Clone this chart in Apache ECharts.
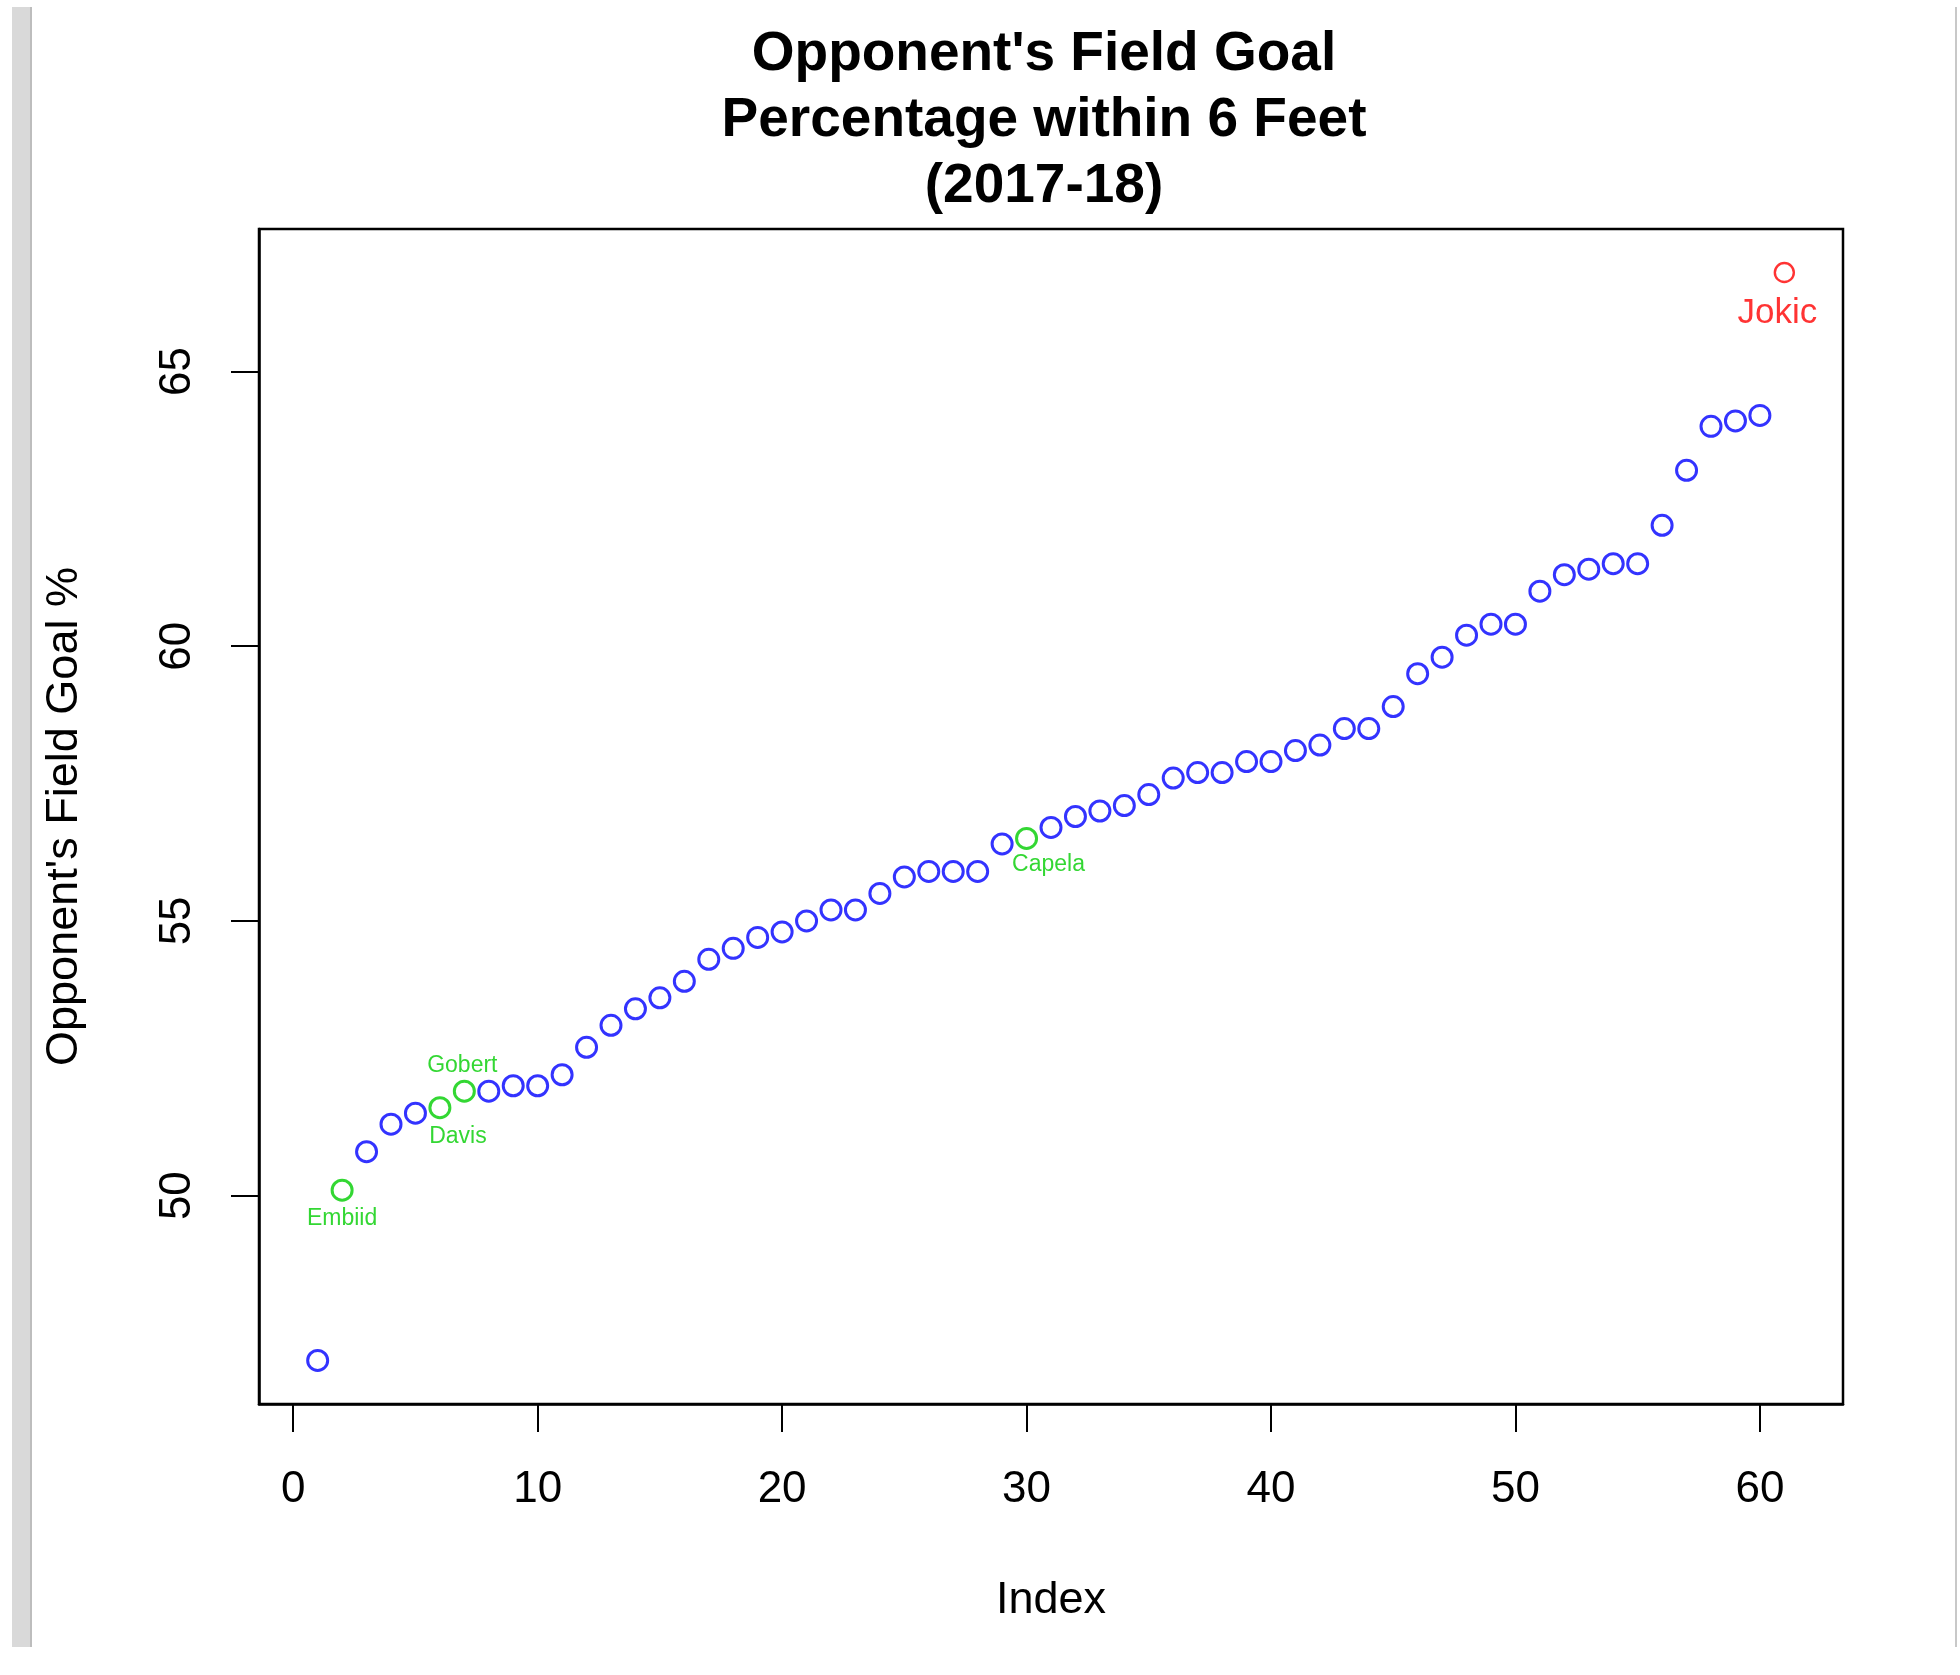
<!DOCTYPE html>
<html>
<head>
<meta charset="utf-8">
<script src="https://cdn.jsdelivr.net/npm/echarts@6/dist/echarts.min.js"></script>
<style>
html,body{margin:0;padding:0;background:#fff;}
#chart{width:1960px;height:1675px;}
</style>
</head>
<body>
<div id="chart"></div>
<script>
// Opponent's FG% within 6 feet, sorted ascending (index 1..61)
const fgPct = [47.0, 50.1, 50.8, 51.3, 51.5, 51.6, 51.9, 51.9, 52.0, 52.0,
               52.2, 52.7, 53.1, 53.4, 53.6, 53.9, 54.3, 54.5, 54.7, 54.8,
               55.0, 55.2, 55.2, 55.5, 55.8, 55.9, 55.9, 55.9, 56.4, 56.5,
               56.7, 56.9, 57.0, 57.1, 57.3, 57.6, 57.7, 57.7, 57.9, 57.9,
               58.1, 58.2, 58.5, 58.5, 58.9, 59.5, 59.8, 60.2, 60.4, 60.4,
               61.0, 61.3, 61.4, 61.5, 61.5, 62.2, 63.2, 64.0, 64.1, 64.2,
               66.8];
const playerNames = ['Embiid', 'Davis', 'Gobert', 'Capela', 'Jokic'];
const playerIndex = [2, 6, 7, 30, 61];
const playerGroup = ['peer', 'peer', 'peer', 'peer', 'focus'];
const xTicks = [0, 10, 20, 30, 40, 50, 60];
const yTicks = [50, 55, 60, 65];
const titleLines = ["Opponent's Field Goal", "Percentage within 6 Feet", "(2017-18)"];
const xAxisTitle = 'Index';
const yAxisTitle = "Opponent's Field Goal %";

// styling (not data)
const FONT = '"Liberation Sans", Arial, Helvetica, sans-serif';
const groupColor = { peer: '#00cd00', focus: '#ff0000', base: '#0000ff' };
const groupMarker = {
  peer:  { size: 20, border: 3 },
  focus: { size: 19, border: 2.4 },
  base:  { size: 20, border: 3 }
};
const labelStyle = {
  Embiid: { offset: [0, 29], fontSize: 23 },
  Davis:  { offset: [18, 29], fontSize: 23 },
  Gobert: { offset: [-2, -26], fontSize: 23 },
  Capela: { offset: [22, 26], fontSize: 23 },
  Jokic:  { offset: [-7, 41], fontSize: 35 }
};

// R-style 4% axis extension
const n = fgPct.length;
const xLo = 1, xHi = n;
const yLo = Math.min(...fgPct), yHi = Math.max(...fgPct);
const xMin = xLo - 0.04 * (xHi - xLo), xMax = xHi + 0.04 * (xHi - xLo);
const yMin = yLo - 0.04 * (yHi - yLo), yMax = yHi + 0.04 * (yHi - yLo);

const data = fgPct.map((v, i) => {
  const idx = i + 1;
  const k = playerIndex.indexOf(idx);
  const grp = k >= 0 ? playerGroup[k] : 'base';
  const c = groupColor[grp];
  const mk = groupMarker[grp];
  const item = {
    value: [idx, v],
    symbolSize: mk.size,
    itemStyle: { color: 'rgba(0,0,0,0)', borderColor: c, borderWidth: mk.border }
  };
  if (k >= 0) {
    const nm = playerNames[k];
    const st = labelStyle[nm];
    item.label = {
      show: true,
      formatter: nm,
      position: 'inside',
      offset: st.offset,
      color: c,
      fontSize: st.fontSize,
      fontFamily: FONT,
      align: 'center',
      verticalAlign: 'middle'
    };
  }
  return item;
});

const chart = echarts.init(document.getElementById('chart'), null, { renderer: 'canvas' });
chart.setOption({
  backgroundColor: '#ffffff',
  animation: false,
  title: {
    text: titleLines.join('\n'),
    left: 1039,
    top: 17,
    textAlign: 'center',
    textStyle: {
      fontFamily: FONT,
      fontWeight: 'bold',
      fontSize: 55,
      lineHeight: 66,
      color: '#000'
    }
  },
  graphic: [
    { type: 'rect', shape: { x: 12, y: 7, width: 19, height: 1640 }, style: { fill: '#d9d9d9' }, silent: true, z: 100 },
    { type: 'rect', shape: { x: 30, y: 7, width: 2, height: 1640 }, style: { fill: '#bdbdbd' }, silent: true, z: 100 },
    { type: 'rect', shape: { x: 1955, y: 7, width: 2, height: 1640 }, style: { fill: '#c8c8c8' }, silent: true, z: 100 }
  ],
  grid: {
    left: 259, right: 117, top: 229, bottom: 271,
    show: true, borderColor: '#000', borderWidth: 2.5, backgroundColor: 'transparent'
  },
  xAxis: {
    type: 'value',
    min: xMin, max: xMax,
    name: xAxisTitle,
    nameLocation: 'middle',
    nameGap: 174,
    nameTextStyle: { fontFamily: FONT, fontSize: 45, color: '#000' },
    axisLine: { show: true, onZero: false, lineStyle: { color: '#000', width: 2.5 } },
    axisTick: { show: true, inside: false, length: 28, customValues: xTicks, lineStyle: { color: '#000', width: 2 } },
    axisLabel: { show: true, customValues: xTicks, margin: 64, fontFamily: FONT, fontSize: 44, color: '#000' },
    splitLine: { show: false }
  },
  yAxis: {
    type: 'value',
    min: yMin, max: yMax,
    name: yAxisTitle,
    nameLocation: 'middle',
    nameGap: 172,
    nameRotate: 90,
    nameTextStyle: { fontFamily: FONT, fontSize: 45, color: '#000' },
    axisLine: { show: true, onZero: false, lineStyle: { color: '#000', width: 2.5 } },
    axisTick: { show: true, inside: false, length: 28, customValues: yTicks, lineStyle: { color: '#000', width: 2 } },
    axisLabel: { show: true, customValues: yTicks, rotate: 90, margin: 59, fontFamily: FONT, fontSize: 44, color: '#000' },
    splitLine: { show: false }
  },
  series: [{
    type: 'scatter',
    symbol: 'circle',
    data: data,
    emphasis: { disabled: true }
  }]
});
</script>
</body>
</html>
